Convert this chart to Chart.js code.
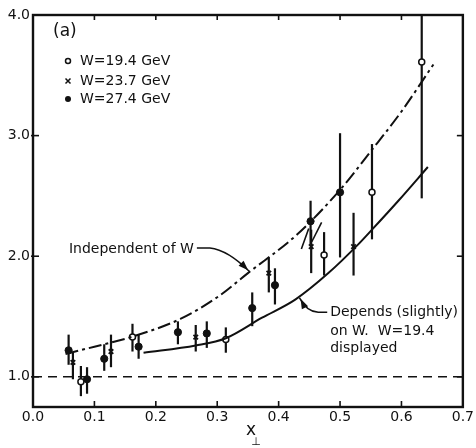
<!DOCTYPE html>
<html><head><meta charset="utf-8">
<script src="https://cdn.jsdelivr.net/npm/chart.js@4/dist/chart.umd.min.js"></script>
<style>html,body{margin:0;padding:0;background:#fff}#wrap{width:476px;height:448px}canvas{display:block}</style>
</head><body>
<div id="wrap"><canvas id="c" width="476" height="448"></canvas></div>
<script>
// ---- data ----
const xTickValues = [0.0, 0.1, 0.2, 0.3, 0.4, 0.5, 0.6, 0.7];
const yTickValues = [1.0, 2.0, 3.0, 4.0];

// W = 19.4 GeV (open circles)
const w194X  = [0.078, 0.162, 0.314, 0.474, 0.552, 0.633];
const w194Y  = [0.96, 1.33, 1.31, 2.01, 2.53, 3.61];
const w194Lo = [0.84, 1.21, 1.20, 1.84, 2.14, 2.48];
const w194Hi = [1.09, 1.44, 1.41, 2.20, 2.93, 4.00];

// W = 23.7 GeV (crosses)
const w237X  = [0.065, 0.127, 0.265, 0.384, 0.453, 0.522];
const w237Y  = [1.12, 1.21, 1.33, 1.86, 2.08, 2.08];
const w237Lo = [0.98, 1.08, 1.21, 1.70, 1.86, 1.84];
const w237Hi = [1.20, 1.35, 1.43, 1.99, 2.22, 2.36];

// W = 27.4 GeV (filled circles)
const w274X  = [0.058, 0.088, 0.116, 0.172, 0.236, 0.283, 0.357, 0.394, 0.452, 0.500];
const w274Y  = [1.22, 0.98, 1.15, 1.25, 1.37, 1.36, 1.57, 1.76, 2.29, 2.53];
const w274Lo = [1.10, 0.86, 1.05, 1.15, 1.27, 1.24, 1.42, 1.60, 2.10, 1.99];
const w274Hi = [1.35, 1.08, 1.27, 1.35, 1.46, 1.46, 1.70, 1.90, 2.46, 3.02];

// "Independent of W" curve (dash-dot)
const indepX = [0.053, 0.10, 0.16, 0.24, 0.30, 0.35, 0.43, 0.50, 0.55, 0.60, 0.652];
const indepY = [1.19, 1.25, 1.33, 1.48, 1.66, 1.86, 2.18, 2.55, 2.87, 3.20, 3.59];

// "Depends (slightly) on W" curve, W = 19.4 (solid)
const depX = [0.18, 0.265, 0.314, 0.373, 0.427, 0.481, 0.53, 0.552, 0.595, 0.643];
const depY = [1.20, 1.26, 1.32, 1.49, 1.64, 1.86, 2.10, 2.22, 2.46, 2.74];

// short curve pieces for the other W values
const segAX = [0.437, 0.449], segAY = [2.06, 2.23];
const segBX = [0.454, 0.470], segBY = [2.12, 2.28];

// reference line
const refX = [0.0, 0.7], refY = [1.0, 1.0];

const legendLabels = ['W=19.4 GeV', 'W=23.7 GeV', 'W=27.4 GeV'];
const panelLabel = '(a)';
const indepLabel = 'Independent of W';
const depLabel = ['Depends (slightly)', 'on W.  W=19.4', 'displayed'];
const xTitle = 'x', xTitleSub = '\u22A5';

const pts = (xs, ys) => xs.map((x, i) => ({x, y: ys[i]}));
const FONT = '"DejaVu Sans", sans-serif';
const INK = '#111';

const lineDs = (xs, ys, dash, w) => ({
  type: 'scatter', data: pts(xs, ys), showLine: true, borderColor: INK,
  borderWidth: w, borderDash: dash, pointRadius: 0, fill: false,
  tension: 0.4, cubicInterpolationMode: 'monotone'
});

const errorBars = [
  [w194X, w194Lo, w194Hi],
  [w237X, w237Lo, w237Hi],
  [w274X, w274Lo, w274Hi]
];

function arrowHead(ctx, x, y, ang, len, half) {
  ctx.save();
  ctx.translate(x, y); ctx.rotate(ang);
  ctx.beginPath();
  ctx.moveTo(0, 0); ctx.lineTo(-len, -half); ctx.lineTo(-len, half); ctx.closePath();
  ctx.fill();
  ctx.restore();
}

const decor = {
  id: 'decor',
  beforeDatasetsDraw(chart) {
    const {ctx, scales: {x, y}} = chart;
    ctx.save();
    ctx.strokeStyle = INK; ctx.lineWidth = 2.2;
    errorBars.forEach(([xs, lo, hi]) => {
      xs.forEach((xv, i) => {
        const px = x.getPixelForValue(xv);
        ctx.beginPath();
        ctx.moveTo(px, y.getPixelForValue(Math.min(hi[i], y.max)));
        ctx.lineTo(px, y.getPixelForValue(lo[i]));
        ctx.stroke();
      });
    });
    ctx.restore();
  },
  afterDatasetsDraw(chart) {
    const {ctx, chartArea: a, scales: {x, y}} = chart;
    ctx.save();
    // frame
    ctx.strokeStyle = INK; ctx.lineWidth = 2.4;
    ctx.strokeRect(a.left, a.top, a.right - a.left, a.bottom - a.top);
    // inward ticks
    ctx.lineWidth = 1.6;
    xTickValues.forEach(v => {
      const px = x.getPixelForValue(v);
      if (px <= a.left + 1 || px >= a.right - 1) return;
      ctx.beginPath(); ctx.moveTo(px, a.bottom); ctx.lineTo(px, a.bottom - 6); ctx.stroke();
      ctx.beginPath(); ctx.moveTo(px, a.top); ctx.lineTo(px, a.top + 5); ctx.stroke();
    });
    yTickValues.forEach(v => {
      const py = y.getPixelForValue(v);
      if (py <= a.top + 1) return;
      ctx.beginPath(); ctx.moveTo(a.left - 2, py); ctx.lineTo(a.left + 6, py); ctx.stroke();
      ctx.beginPath(); ctx.moveTo(a.right, py); ctx.lineTo(a.right - 6, py); ctx.stroke();
    });
    // x axis title with subscript
    ctx.fillStyle = INK; ctx.textAlign = 'center'; ctx.textBaseline = 'middle';
    const cx = (a.left + a.right) / 2;
    ctx.font = '17px ' + FONT;
    ctx.fillText(xTitle, cx + 3, a.bottom + 24);
    ctx.font = '11px ' + FONT;
    ctx.fillText(xTitleSub, cx + 8, a.bottom + 35);
    // panel label and legend
    ctx.textAlign = 'left';
    ctx.font = '17px ' + FONT;
    ctx.fillText(panelLabel, a.left + 20, a.top + 17);
    ctx.font = '14px ' + FONT;
    const rows = [a.top + 46, a.top + 66, a.top + 84];
    const mx = a.left + 35;
    legendLabels.forEach((t, i) => ctx.fillText(t, mx + 12, rows[i]));
    ctx.lineWidth = 1.5;
    ctx.fillStyle = '#fff';
    ctx.beginPath(); ctx.arc(mx, rows[0], 2.5, 0, Math.PI * 2); ctx.fill(); ctx.stroke();
    ctx.beginPath();
    ctx.moveTo(mx - 2.5, rows[1] - 2.5); ctx.lineTo(mx + 2.5, rows[1] + 2.5);
    ctx.moveTo(mx + 2.5, rows[1] - 2.5); ctx.lineTo(mx - 2.5, rows[1] + 2.5); ctx.stroke();
    ctx.fillStyle = INK;
    ctx.beginPath(); ctx.arc(mx, rows[2], 3, 0, Math.PI * 2); ctx.fill();
    // "Independent of W" annotation
    ctx.font = '14px ' + FONT;
    ctx.textAlign = 'right';
    const t1x = x.getPixelForValue(0.262), t1y = y.getPixelForValue(2.06);
    ctx.fillText(indepLabel, t1x, t1y);
    const tipX = x.getPixelForValue(0.352), tipY = y.getPixelForValue(1.875);
    ctx.lineWidth = 1.5;
    ctx.beginPath();
    ctx.moveTo(t1x + 3, t1y - 1);
    ctx.lineTo(t1x + 16, t1y - 1);
    ctx.quadraticCurveTo(t1x + 34, t1y + 1, tipX, tipY);
    ctx.stroke();
    arrowHead(ctx, tipX - 1, tipY - 1, Math.atan2(tipY - (t1y + 1), tipX - (t1x + 34)), 10, 3.5);
    // "Depends (slightly)..." annotation
    ctx.textAlign = 'left';
    const t2x = x.getPixelForValue(0.484);
    const lines = [1.535, 1.38, 1.24];
    depLabel.forEach((t, i) => ctx.fillText(t, t2x, y.getPixelForValue(lines[i])));
    const tip2X = x.getPixelForValue(0.434), tip2Y = y.getPixelForValue(1.655);
    const l2y = y.getPixelForValue(1.535);
    ctx.beginPath();
    ctx.moveTo(t2x - 3, l2y);
    ctx.lineTo(t2x - 12, l2y);
    ctx.quadraticCurveTo(t2x - 24, l2y - 1, tip2X, tip2Y);
    ctx.stroke();
    arrowHead(ctx, tip2X + 1, tip2Y + 1, Math.atan2(tip2Y - (l2y - 1), tip2X - (t2x - 24)), 10, 3.5);
    ctx.restore();
  }
};

new Chart(document.getElementById('c'), {
  type: 'scatter',
  data: {
    datasets: [
      lineDs(refX, refY, [9, 6], 1.5),
      lineDs(indepX, indepY, [13, 4, 3, 4], 2),
      lineDs(depX, depY, [], 2),
      lineDs(segAX, segAY, [], 1.6),
      lineDs(segBX, segBY, [], 1.6),
      { label: legendLabels[0], data: pts(w194X, w194Y), pointStyle: 'circle', pointRadius: 3,
        pointBackgroundColor: '#fff', pointBorderColor: INK, pointBorderWidth: 1.5 },
      { label: legendLabels[1], data: pts(w237X, w237Y), pointStyle: 'crossRot', pointRadius: 3.2,
        pointBorderColor: INK, pointBorderWidth: 1.8 },
      { label: legendLabels[2], data: pts(w274X, w274Y), pointStyle: 'circle', pointRadius: 3.6,
        pointBackgroundColor: INK, pointBorderColor: INK, pointBorderWidth: 1 }
    ]
  },
  options: {
    responsive: false, animation: false, devicePixelRatio: 1,
    layout: { padding: { left: 0, right: 11, top: 15, bottom: 0 } },
    plugins: { legend: { display: false }, tooltip: { enabled: false } },
    scales: {
      x: {
        type: 'linear', min: 0, max: 0.7,
        grid: { display: false, drawTicks: false }, border: { display: false },
        afterBuildTicks: s => { s.ticks = xTickValues.map(v => ({value: v})); },
        ticks: { callback: v => v.toFixed(1), font: { family: FONT, size: 14 }, color: INK, padding: 2, maxRotation: 0 },
        afterFit: s => { s.height = 41; }
      },
      y: {
        type: 'linear', min: 0.75, max: 4.0,
        grid: { display: false, drawTicks: false }, border: { display: false },
        afterBuildTicks: s => { s.ticks = yTickValues.map(v => ({value: v})); },
        ticks: { callback: v => v.toFixed(1), font: { family: FONT, size: 14 }, color: INK, padding: 3 },
        afterFit: s => { s.width = 33; }
      }
    }
  },
  plugins: [decor]
});
</script>
</body></html>
